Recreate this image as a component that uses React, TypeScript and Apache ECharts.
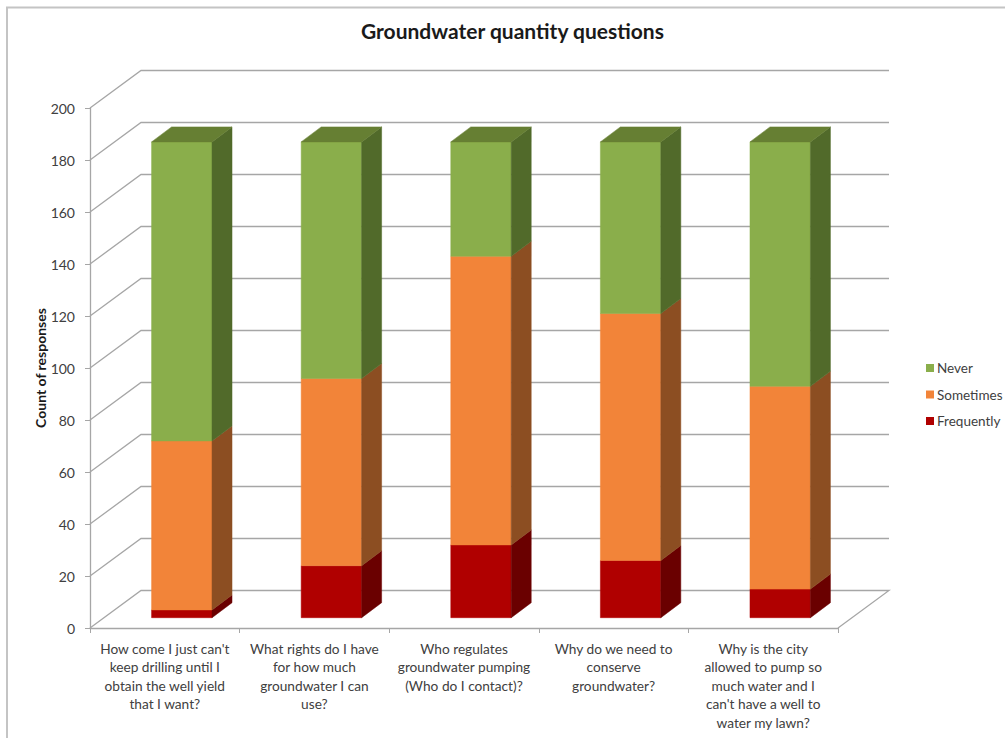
import React, { useEffect, useRef } from "react";
import * as echarts from "echarts";

const categories = [
  "How come I just can't\nkeep drilling until I\nobtain the well yield\nthat I want?",
  "What rights do I have\nfor how much\ngroundwater I can\nuse?",
  "Who regulates\ngroundwater pumping\n(Who do I contact)?",
  "Why do we need to\nconserve\ngroundwater?",
  "Why is the city\nallowed to pump so\nmuch water and I\ncan't have a well to\nwater my lawn?",
];
const frequently = [3, 20, 28, 22, 11];
const sometimes = [65, 72, 111, 95, 78];
const never = [115, 91, 44, 66, 94];
const yTicks = [0, 20, 40, 60, 80, 100, 120, 140, 160, 180, 200];

const FONT = "Lato, 'Open Sans', sans-serif";
const WALL_DX = 51;
const WALL_DY = -37.5;
const BAR_OX = 17;
const BAR_OY = -10.3;
const BAR_DX = 20;
const BAR_DY = -15;
const BAR_RATIO = 0.404;
const GRID_COLOR = "#a6a6a6";

const palette = {
  Never: { front: "#8aae4b", side: "#516a2a", top: "#667f33" },
  Sometimes: { front: "#f28439", side: "#8c4e22", top: "#b5652d" },
  Frequently: { front: "#b00000", side: "#6a0000", top: "#8a0000" },
};

function makeBar(name: string, vals: number[], bases: number[], isTop: boolean) {
  const c = (palette as any)[name];
  return {
    type: "custom",
    name,
    z: 5,
    clip: false,
    itemStyle: { color: c.front },
    encode: { x: 0, y: [1, 2] },
    data: vals.map((v, i) => [i, bases[i], bases[i] + v]),
    renderItem: (params: any, api: any) => {
      const i = api.value(0);
      const b = api.coord([i, api.value(1)]);
      const t = api.coord([i, api.value(2)]);
      const bw = api.size([1, 0])[0] * BAR_RATIO;
      const x0 = b[0] - bw / 2 + BAR_OX;
      const x1 = x0 + bw;
      const yb = b[1] + BAR_OY;
      const yt = t[1] + BAR_OY;
      const children: any[] = [
        {
          type: "polygon",
          shape: { points: [[x0, yt], [x1, yt], [x1, yb], [x0, yb]] },
          style: { fill: c.front, stroke: c.front, lineWidth: 0.5 },
        },
        {
          type: "polygon",
          shape: {
            points: [[x1, yt], [x1 + BAR_DX, yt + BAR_DY], [x1 + BAR_DX, yb + BAR_DY], [x1, yb]],
          },
          style: { fill: c.side, stroke: c.side, lineWidth: 0.5 },
        },
      ];
      if (isTop) {
        children.push({
          type: "polygon",
          shape: {
            points: [[x0, yt], [x0 + BAR_DX, yt + BAR_DY], [x1 + BAR_DX, yt + BAR_DY], [x1, yt]],
          },
          style: { fill: c.top, stroke: c.top, lineWidth: 0.5 },
        });
      }
      return { type: "group", children };
    },
  };
}

export default function App() {
  const ref = useRef<HTMLDivElement>(null);
  useEffect(() => {
    if (!ref.current) return;
    const chart = echarts.init(ref.current, undefined, { renderer: "svg" });
    const base0 = frequently.map(() => 0);
    const base1 = frequently.slice();
    const base2 = frequently.map((f, i) => f + sometimes[i]);

    const gridSeries = {
      type: "custom",
      name: "grid",
      z: 1,
      clip: false,
      silent: true,
      encode: { x: 0, y: 1 },
      data: yTicks.map((v) => [0, v]),
      renderItem: (params: any, api: any) => {
        const cs = params.coordSys;
        const v = api.value(1);
        const y = api.coord([0, v])[1];
        const pts: number[][] = [
          [cs.x, y],
          [cs.x + WALL_DX, y + WALL_DY],
          [cs.x + cs.width + WALL_DX, y + WALL_DY],
        ];
        if (v === 0) pts.push([cs.x + cs.width, y]);
        return {
          type: "polyline",
          shape: { points: pts },
          style: { stroke: GRID_COLOR, lineWidth: 1.3, fill: "none" },
        };
      },
    };

    chart.setOption({
      animation: false,
      backgroundColor: "#ffffff",
      title: {
        text: "Groundwater quantity questions",
        left: 361,
        top: 20,
        padding: 0,
        textStyle: { fontFamily: FONT, fontSize: 21, fontWeight: "bold", color: "#1a1a1a" },
      },
      legend: {
        orient: "vertical",
        left: 921,
        top: 356,
        itemWidth: 8,
        itemHeight: 8,
        itemGap: 12.5,
        icon: "rect",
        data: ["Never", "Sometimes", "Frequently"],
        textStyle: { fontFamily: FONT, fontSize: 13.5, color: "#404040", padding: [0, 0, 0, -2] },
      },
      grid: { left: 90, top: 108, width: 748, height: 520 },
      xAxis: {
        type: "category",
        data: categories,
        boundaryGap: true,
        axisLine: { show: true, lineStyle: { color: GRID_COLOR, width: 1.3 } },
        axisTick: { show: true, length: 5, interval: 0, lineStyle: { color: GRID_COLOR } },
        axisLabel: {
          interval: 0,
          margin: 11,
          fontFamily: FONT,
          fontSize: 13.7,
          lineHeight: 18.5,
          color: "#404040",
          align: "center",
        },
        splitLine: { show: false },
      },
      yAxis: {
        type: "value",
        min: 0,
        max: 200,
        interval: 20,
        name: "Count of responses",
        nameLocation: "middle",
        nameRotate: 90,
        nameGap: 43,
        nameMoveOverlap: false,
        nameTextStyle: { fontFamily: FONT, fontSize: 14, fontWeight: "bold", color: "#1a1a1a" },
        axisLine: { show: true, lineStyle: { color: GRID_COLOR, width: 1.3 } },
        axisTick: { show: true, length: 5, lineStyle: { color: GRID_COLOR } },
        axisLabel: { margin: 15, fontFamily: FONT, fontSize: 14, color: "#404040" },
        splitLine: { show: false },
      },
      graphic: [
        {
          type: "rect",
          shape: { x: 7, y: 7.5, width: 1100, height: 800 },
          style: { fill: "none", stroke: "#c4c4c4", lineWidth: 2 },
          silent: true,
        },
      ],
      series: [
        gridSeries,
        makeBar("Frequently", frequently, base0, false),
        makeBar("Sometimes", sometimes, base1, false),
        makeBar("Never", never, base2, true),
      ],
    });
    return () => chart.dispose();
  }, []);
  return (
    <div
      ref={ref}
      style={{ position: "fixed", left: 0, top: 0, width: 1005, height: 738 }}
    />
  );
}
